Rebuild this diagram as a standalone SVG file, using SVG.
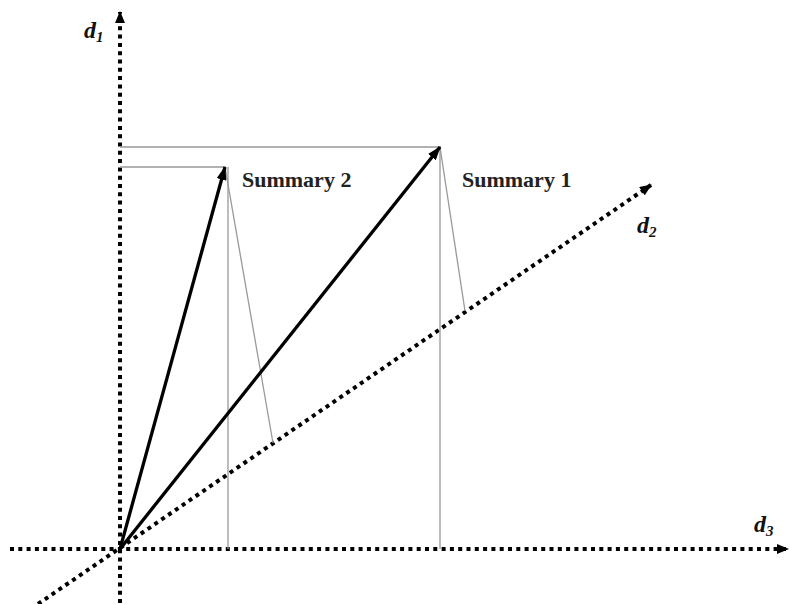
<svg xmlns="http://www.w3.org/2000/svg" width="790" height="604" viewBox="0 0 790 604">
<style>
.axis{stroke:#000;stroke-width:4;stroke-dasharray:4 4.3;fill:none}
.vec{stroke:#000;stroke-width:3.3;fill:none}
.proj{stroke:#999;stroke-width:1.3;fill:none}
.lbl{font-family:"Liberation Serif",serif;font-weight:bold;font-size:22px;fill:#222}
.ax{font-family:"Liberation Serif",serif;font-weight:bold;font-style:italic;font-size:24px;fill:#111}
.sub{font-size:15px}
</style>
<defs>
<marker id="ah" markerWidth="12" markerHeight="10" refX="11" refY="5" orient="auto" markerUnits="userSpaceOnUse"><path d="M0,0 L12,5 L0,10 Z" fill="#000"/></marker>
<marker id="vh" markerWidth="14" markerHeight="10" refX="13" refY="5" orient="auto" markerUnits="userSpaceOnUse"><path d="M0,0 L14,5 L0,10 Z" fill="#000"/></marker>
</defs>
<g id="connectors">
<line class="axis" x1="120" y1="603" x2="120" y2="12" marker-end="url(#ah)"/>
<line class="axis" x1="10" y1="549" x2="788" y2="549" marker-end="url(#ah)"/>
<line class="axis" x1="38" y1="604" x2="651" y2="185" marker-end="url(#ah)"/>
<polyline class="proj" points="120,147 440,147 440,549"/>
<polyline class="proj" points="120,167 225,167"/>
<line class="proj" x1="228" y1="167" x2="228" y2="549"/>
<line class="proj" x1="440" y1="147" x2="465" y2="311"/>
<line class="proj" x1="225" y1="167" x2="273" y2="443"/>
<line class="vec" x1="120" y1="549" x2="440" y2="147" marker-end="url(#vh)"/>
<line class="vec" x1="120" y1="549" x2="225" y2="167" marker-end="url(#vh)"/>
</g>
<g id="summary1"><text class="lbl" x="462" y="187">Summary 1</text></g>
<g id="summary2"><text class="lbl" x="242" y="187">Summary 2</text></g>
<g id="d1"><text class="ax" x="84" y="38">d<tspan class="sub" dy="4">1</tspan></text></g>
<g id="d2"><text class="ax" x="637" y="233">d<tspan class="sub" dy="4">2</tspan></text></g>
<g id="d3"><text class="ax" x="754" y="532">d<tspan class="sub" dy="4">3</tspan></text></g>
</svg>
